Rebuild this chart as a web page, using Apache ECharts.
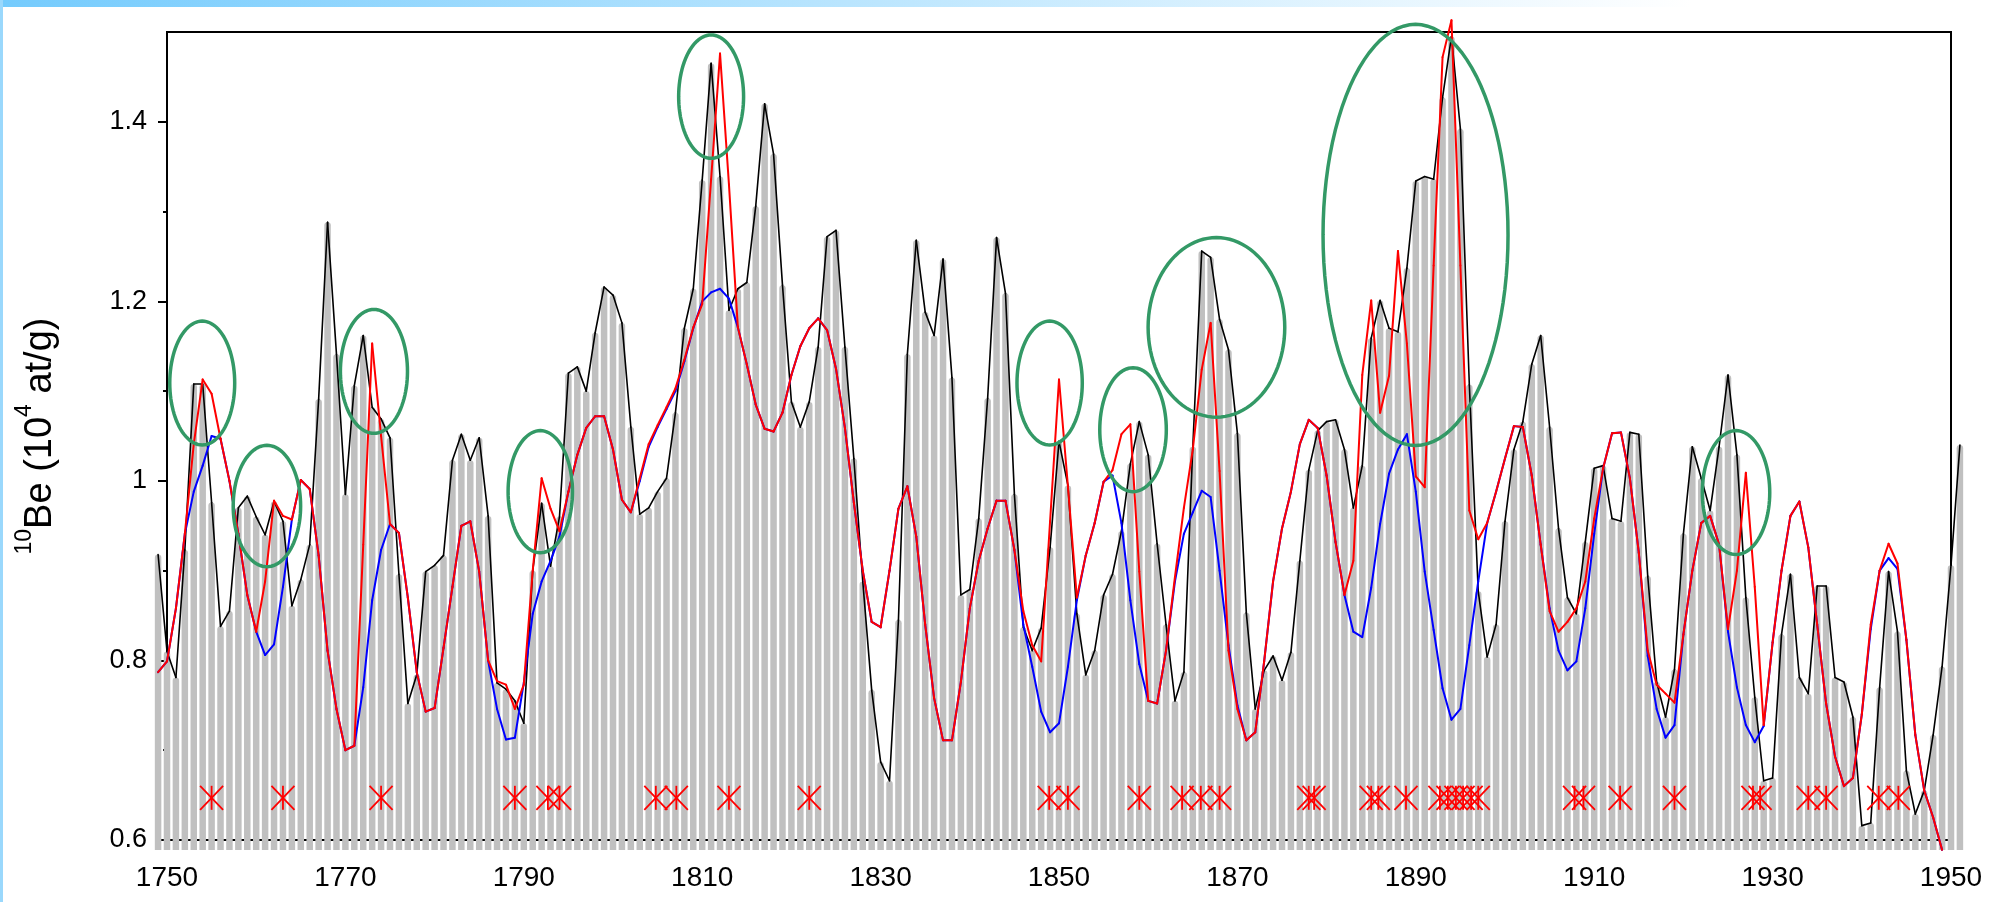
<!DOCTYPE html>
<html>
<head>
<meta charset="utf-8">
<script src="https://cdn.jsdelivr.net/npm/echarts@6/dist/echarts.min.js"></script>
<style>
html,body{margin:0;padding:0;background:#fff;}
#chart{width:1990px;height:902px;}
</style>
</head>
<body>
<div id="chart"></div>
<script>
// ---- DATA ----
const firstYear = 1749;
// 10Be yearly values (grey bars + black line), 1749..1951
const be10 = [
0.918,0.81,0.781,0.923,1.108,1.108,0.976,0.838,0.855,0.97,
0.983,0.96,0.94,0.977,0.955,0.861,0.89,0.929,1.091,1.288,
1.141,0.985,1.106,1.162,1.082,1.069,1.048,0.896,0.752,0.784,
0.899,0.906,0.917,1.023,1.052,1.023,1.048,0.961,0.775,0.768,
0.755,0.73,0.90,0.975,0.905,0.96,1.12,1.127,1.10,1.165,
1.216,1.207,1.176,1.06,0.963,0.97,0.988,1.003,1.076,1.17,
1.214,1.335,1.465,1.339,1.19,1.214,1.221,1.306,1.42,1.364,
1.218,1.088,1.06,1.088,1.149,1.272,1.279,1.149,1.025,0.888,
0.767,0.687,0.666,0.845,1.141,1.268,1.188,1.162,1.247,1.115,
0.873,0.879,0.958,1.092,1.271,1.209,0.985,0.837,0.811,0.836,
0.926,1.044,0.995,0.852,0.784,0.811,0.873,0.896,0.944,1.019,
1.066,1.029,0.93,0.84,0.755,0.787,1.038,1.256,1.249,1.18,
1.146,1.053,0.853,0.746,0.789,0.805,0.778,0.809,0.911,1.012,
1.056,1.066,1.068,1.035,0.97,1.017,1.159,1.201,1.17,1.166,
1.237,1.334,1.339,1.336,1.427,1.495,1.392,1.107,0.877,0.804,
0.84,0.955,1.035,1.066,1.13,1.162,1.06,0.947,0.87,0.852,
0.932,1.014,1.017,0.958,0.955,1.054,1.052,0.894,0.776,0.737,
0.79,0.941,1.038,1.003,0.967,1.038,1.118,1.029,0.87,0.759,
0.666,0.669,0.829,0.896,0.781,0.763,0.883,0.883,0.781,0.776,
0.737,0.616,0.619,0.77,0.899,0.832,0.677,0.629,0.655,0.717,
0.793,0.906,1.04
];
// red filtered curve, 1749..1949
const redCurve = [
0.787,0.799,0.858,0.941,1.041,1.113,1.097,1.047,1.0,0.941,
0.873,0.832,0.888,0.978,0.961,0.957,1.001,0.991,0.917,0.811,
0.746,0.70,0.705,0.929,1.153,1.05,0.952,0.942,0.87,0.787,
0.743,0.747,0.814,0.882,0.95,0.955,0.899,0.80,0.777,0.773,
0.746,0.773,0.90,1.003,0.969,0.944,0.988,1.029,1.059,1.072,
1.072,1.035,0.979,0.965,1.003,1.041,1.062,1.082,1.103,1.135,
1.171,1.197,1.336,1.476,1.33,1.171,1.13,1.085,1.058,1.055,
1.076,1.118,1.15,1.17,1.181,1.168,1.125,1.059,0.976,0.90,
0.843,0.837,0.90,0.969,0.994,0.938,0.84,0.758,0.711,0.711,
0.776,0.858,0.911,0.947,0.978,0.978,0.923,0.855,0.817,0.799,
0.955,1.113,0.994,0.87,0.917,0.953,0.999,1.012,1.052,1.063,
0.899,0.755,0.752,0.811,0.893,0.97,1.035,1.124,1.176,1.011,
0.811,0.746,0.711,0.72,0.799,0.888,0.947,0.988,1.041,1.068,
1.059,1.006,0.932,0.873,0.911,1.118,1.201,1.076,1.117,1.256,
1.153,1.005,0.993,1.24,1.472,1.513,1.24,0.967,0.935,0.953,
0.988,1.025,1.061,1.06,1.006,0.929,0.855,0.832,0.843,0.858,
0.888,0.958,1.014,1.053,1.054,1.003,0.92,0.811,0.773,0.763,
0.753,0.829,0.90,0.953,0.961,0.929,0.835,0.90,1.009,0.882,
0.728,0.82,0.90,0.961,0.977,0.926,0.84,0.752,0.693,0.66,
0.669,0.74,0.84,0.90,0.93,0.908,0.823,0.717,0.655,0.625,
0.589
];
// blue filtered curve, 1749..1949
const blueCurve = [
0.787,0.799,0.858,0.941,0.988,1.017,1.05,1.047,1.0,0.941,
0.873,0.832,0.806,0.818,0.882,0.957,1.001,0.991,0.917,0.811,
0.746,0.70,0.705,0.77,0.867,0.923,0.952,0.942,0.87,0.787,
0.743,0.747,0.814,0.882,0.95,0.955,0.899,0.80,0.746,0.712,
0.714,0.775,0.852,0.888,0.911,0.938,0.988,1.029,1.059,1.072,
1.072,1.035,0.979,0.965,1.0,1.038,1.06,1.08,1.10,1.133,
1.17,1.20,1.21,1.214,1.203,1.171,1.13,1.085,1.058,1.055,
1.076,1.118,1.15,1.17,1.181,1.168,1.125,1.059,0.976,0.90,
0.843,0.837,0.90,0.969,0.994,0.938,0.84,0.758,0.711,0.711,
0.776,0.858,0.911,0.947,0.978,0.978,0.923,0.84,0.793,0.743,
0.72,0.73,0.793,0.867,0.917,0.953,0.999,1.006,0.953,0.867,
0.796,0.755,0.752,0.811,0.888,0.941,0.965,0.989,0.982,0.90,
0.817,0.75,0.711,0.72,0.799,0.888,0.947,0.988,1.041,1.068,
1.059,1.006,0.932,0.873,0.832,0.826,0.881,0.952,1.008,1.035,
1.052,0.988,0.899,0.834,0.769,0.734,0.746,0.817,0.888,0.953,
0.988,1.025,1.061,1.06,1.006,0.929,0.858,0.811,0.789,0.799,
0.858,0.941,1.014,1.053,1.054,1.003,0.92,0.805,0.746,0.714,
0.728,0.829,0.90,0.953,0.961,0.929,0.832,0.77,0.728,0.709,
0.727,0.82,0.90,0.961,0.977,0.926,0.84,0.752,0.693,0.66,
0.669,0.74,0.835,0.90,0.914,0.902,0.823,0.717,0.655,0.625,
0.589
];
// red asterisk event years and their plotting level
const eventYears = [1755,1763,1774,1789,1792.7,1794,1804.8,1807.1,1813,1822,
  1848.9,1851,1859,1863.8,1865.9,1868,1878,1878.6,1885,1885.8,1888.9,
  1892.7,1893.6,1894.5,1895.3,1896.2,1897,1907.8,1908.8,1912.9,1919,
  1927.8,1928.6,1934,1936,1941.9,1944.1];
const eventLevel = 0.647;
// green ellipses: [centre year, centre value, half width (years), half height (value)]
const ellipses = [
  [1753.95,1.109,3.64,0.069],
  [1761.2,0.972,3.78,0.0676],
  [1773.2,1.122,3.76,0.069],
  [1791.85,0.988,3.61,0.068],
  [1811.0,1.428,3.64,0.0687],
  [1848.95,1.109,3.66,0.069],
  [1858.3,1.057,3.73,0.069],
  [1867.65,1.171,7.66,0.100],
  [1889.97,1.274,10.37,0.2345],
  [1925.9,0.987,3.78,0.069]
];
const yMajorTicks = [0.6,0.8,1,1.2,1.4];
const yMinorTicks = [0.7,0.9,1.1,1.3];
const xTickLabels = [1750,1770,1790,1810,1830,1850,1870,1890,1910,1930,1950];

// ---- BUILD ----
const FONT = 'Liberation Sans, Arial, Helvetica, sans-serif';
const pairs = arr => arr.map((v,i)=>[firstYear+i, v]);
// consecutive segments [x1, y1, x0, y0] so points outside the axis range are still drawn
const segments = arr => arr.slice(1).map((v,i)=>[firstYear+i+1, v, firstYear+i, arr[i]]);
const barW = 6.5, barExtend = 10;

function segmentSeries(name, arr, color, width, z){
  return {type:'custom', name:name, clip:false, z:z,
    data:segments(arr), encode:{x:[0,2], y:[1,3]},
    renderItem:function(params, api){
      const p1 = api.coord([api.value(0), api.value(1)]);
      const p0 = api.coord([api.value(2), api.value(3)]);
      return {type:'line', shape:{x1:p0[0],y1:p0[1],x2:p1[0],y2:p1[1]},
        style:{stroke:color, lineWidth:width, lineCap:'round'}};
    }};
}

const chart = echarts.init(document.getElementById('chart'), null, {renderer:'canvas'});
chart.setOption({
  animation:false,
  backgroundColor:'#ffffff',
  graphic:[
    {type:'rect', left:0, top:0, shape:{width:1990,height:7}, silent:true,
     style:{fill:new echarts.graphic.LinearGradient(0,0,1,0,[{offset:0,color:'#74cbfd'},{offset:0.85,color:'#ffffff'}])}},
    {type:'rect', left:0, top:0, shape:{width:3,height:902}, silent:true, style:{fill:'#9ad8fc'}}
  ],
  grid:{left:167, right:39, top:32, bottom:62, show:true, borderColor:'#000', borderWidth:2, backgroundColor:'transparent'},
  xAxis:{
    type:'value', min:1750, max:1950, interval:20,
    axisLine:{show:false}, axisTick:{show:false}, splitLine:{show:false},
    axisLabel:{color:'#000', fontSize:28, fontFamily:FONT, margin:24,
      customValues:xTickLabels, formatter:function(v){ return String(v); }}
  },
  yAxis:[
    {type:'value', min:0.6, max:1.5, position:'left',
     name:'{sup|10}{base|Be (10}{sup|4}{base| at/g)}',
     nameLocation:'middle', nameRotate:90, nameGap:98,
     nameTextStyle:{rich:{
       base:{fontSize:38, fontFamily:FONT, color:'#000', lineHeight:56},
       sup:{fontSize:23, fontFamily:FONT, color:'#000', lineHeight:23, verticalAlign:'top'}
     }},
     axisLine:{show:true, lineStyle:{color:'#000', width:2}},
     axisTick:{show:true, length:9, lineStyle:{color:'#000', width:2}, customValues:yMajorTicks},
     axisLabel:{color:'#000', fontSize:27, fontFamily:FONT, margin:20, customValues:yMajorTicks},
     splitLine:{show:false}},
    {type:'value', min:0.6, max:1.5, position:'left',
     axisLine:{show:false},
     axisTick:{show:true, length:4, lineStyle:{color:'#000', width:2}, customValues:yMinorTicks},
     axisLabel:{show:false}, splitLine:{show:false}}
  ],
  series:[
    {type:'custom', name:'bars', clip:false, z:2,
     data:pairs(be10), encode:{x:0,y:1},
     renderItem:function(params, api){
       const x = api.value(0), v = api.value(1);
       const p = api.coord([x, v]);
       const b = api.coord([x, 0.6]);
       return {type:'rect',
         shape:{x:p[0]-barW/2, y:p[1], width:barW, height:b[1]+barExtend-p[1], r:[barW/2,barW/2,0,0]},
         style:{fill:'#c0c0c0'}};
     }},
    segmentSeries('annual', be10, '#000000', 1.6, 3),
    segmentSeries('blue', blueCurve, '#0000ff', 2, 4),
    segmentSeries('red', redCurve, '#ff0000', 2, 5),
    {type:'custom', name:'events', clip:false, z:6,
     data:eventYears.map(y=>[y, eventLevel]), encode:{x:0,y:1},
     renderItem:function(params, api){
       const c = api.coord([api.value(0), api.value(1)]);
       const sx = 11.5, sy = 12;
       const st = {stroke:'#ff0000', lineWidth:1.8};
       return {type:'group', children:[
         {type:'line', shape:{x1:c[0]-sx,y1:c[1]-sy,x2:c[0]+sx,y2:c[1]+sy}, style:st},
         {type:'line', shape:{x1:c[0]-sx,y1:c[1]+sy,x2:c[0]+sx,y2:c[1]-sy}, style:st},
         {type:'line', shape:{x1:c[0],y1:c[1]-sy,x2:c[0],y2:c[1]+sy}, style:st}
       ]};
     }},
    {type:'custom', name:'ellipses', clip:false, z:7,
     data:ellipses, encode:{x:0,y:1},
     renderItem:function(params, api){
       const c = api.coord([api.value(0), api.value(1)]);
       const rx = api.size([api.value(2), 0])[0];
       const ry = api.size([0, api.value(3)])[1];
       const pts = [];
       for (let k=0;k<96;k++){
         const a = k/96*Math.PI*2;
         pts.push([c[0]+rx*Math.cos(a), c[1]+ry*Math.sin(a)]);
       }
       return {type:'polygon', shape:{points:pts},
         style:{fill:'none', stroke:'#339966', lineWidth:3.5}};
     }}
  ]
});
</script>
</body>
</html>
